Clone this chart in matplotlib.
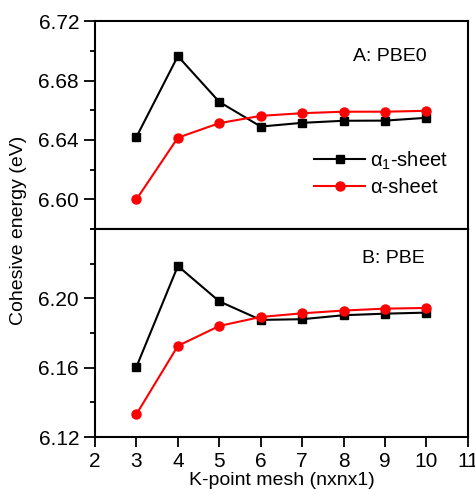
import numpy as np
import matplotlib
matplotlib.use("Agg")
import matplotlib.pyplot as plt
from matplotlib.ticker import MultipleLocator

plt.rcParams['font.family'] = ['Liberation Sans', 'DejaVu Sans']
plt.rcParams['mathtext.default'] = 'regular'
plt.rcParams['font.size'] = 14

# K-point mesh
k = np.array([3, 4, 5, 6, 7, 8, 9, 10])

# A: PBE0
pbe0_a1 = np.array([6.642, 6.6964, 6.6656, 6.649, 6.6515, 6.6529, 6.653, 6.6549])
pbe0_a = np.array([6.600, 6.6415, 6.6513, 6.6562, 6.658, 6.659, 6.659, 6.6596])

# B: PBE
pbe_a1 = np.array([6.1605, 6.2187, 6.1983, 6.1876, 6.188, 6.1903, 6.1912, 6.1918])
pbe_a = np.array([6.1332, 6.1726, 6.1841, 6.1893, 6.1914, 6.193, 6.1941, 6.1945])

fig = plt.figure(figsize=(4.75, 4.9), dpi=100)
gs = fig.add_gridspec(2, 1, hspace=0, left=0.2, right=0.985, top=0.957, bottom=0.108)
ax1 = fig.add_subplot(gs[0])
ax2 = fig.add_subplot(gs[1], sharex=ax1)

ax1.plot(k, pbe0_a1, 'k-s', lw=1.5, ms=6, label=u'\u03b1$_1$-sheet')
ax1.plot(k, pbe0_a, 'r-o', lw=1.5, ms=6.5, label=u'\u03b1-sheet')
ax2.plot(k, pbe_a1, 'k-s', lw=1.5, ms=6)
ax2.plot(k, pbe_a, 'r-o', lw=1.5, ms=6.5)

ax1.set_ylim(6.58, 6.72)
ax1.set_yticks([6.60, 6.64, 6.68, 6.72])
ax1.yaxis.set_minor_locator(MultipleLocator(0.02))
ax2.set_ylim(6.12, 6.24)
ax2.set_yticks([6.12, 6.16, 6.20])
ax2.yaxis.set_minor_locator(MultipleLocator(0.02))
ax2.set_xlim(2, 11)
ax2.set_xticks(range(2, 12))

for ax in (ax1, ax2):
    ax.yaxis.set_major_formatter(matplotlib.ticker.FormatStrFormatter('%.2f'))
    ax.tick_params(axis='y', which='major', direction='out', length=8, width=1.3, labelsize=15)
    ax.tick_params(axis='y', which='minor', direction='out', length=3.5, width=1.3)
    for s in ax.spines.values():
        s.set_linewidth(1.5)

ax1.tick_params(axis='x', which='both', bottom=False, labelbottom=False)
ax2.tick_params(axis='x', direction='out', length=7, width=1.3, labelsize=15)

ax1.text(0.79, 0.83, 'A: PBE0', transform=ax1.transAxes, ha='center', va='center', fontsize=14)
ax2.text(0.8, 0.86, 'B: PBE', transform=ax2.transAxes, ha='center', va='center', fontsize=14)

ax1.legend(loc='center left', bbox_to_anchor=(0.54, 0.27), frameon=False, fontsize=14.5,
           handlelength=2.5, handletextpad=0.25, labelspacing=0.3)

ax2.set_xlabel('K-point mesh (nxnx1)', fontsize=14, labelpad=1)
fig.text(0.04, 0.53, 'Cohesive energy (eV)', rotation=90, ha='center', va='center', fontsize=14)

plt.savefig('out.png', dpi=100)
